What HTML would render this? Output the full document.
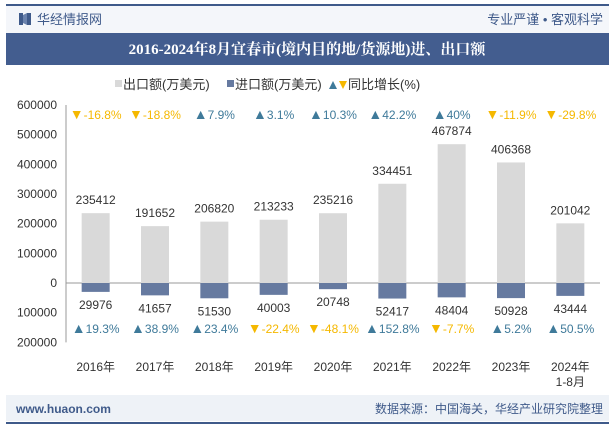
<!DOCTYPE html>
<html><head><meta charset="utf-8"><style>
body{margin:0;width:615px;height:427px;background:#fff;font-family:"Liberation Sans","Noto Sans CJK SC",sans-serif;overflow:hidden}
</style></head><body>
<svg width="615" height="427" xmlns="http://www.w3.org/2000/svg" font-family="Liberation Sans, Noto Sans CJK SC, sans-serif">
<rect x="6" y="4" width="603" height="2" fill="#3f5a8a"/>
<rect x="6" y="6" width="603" height="27" fill="#f4f6fa"/>
<g><rect x="19" y="13" width="4" height="12" fill="#3f5a8a"/><rect x="27" y="13" width="4" height="12" fill="#3f5a8a"/><polygon points="23,15 27,13 27,25 23,23" fill="#6a82ad"/></g>
<text x="37" y="24" font-size="13" fill="#3f5a8a">华经情报网</text>
<text x="603" y="24" font-size="13" fill="#3f5a8a" text-anchor="end">专业严谨 • 客观科学</text>
<rect x="6" y="33" width="603" height="32" fill="#435d8f"/>
<text x="307" y="54" font-size="15" font-weight="bold" fill="#fff" text-anchor="middle" font-family="Liberation Serif, Noto Serif CJK SC, serif">2016-2024年8月宜春市(境内目的地/货源地)进、出口额</text>
<g font-size="13" fill="#333">
<rect x="115" y="80" width="7" height="7" fill="#d9d9d9"/><text x="123" y="89">出口额(万美元)</text>
<rect x="227" y="80" width="7" height="7" fill="#667aa0"/><text x="235" y="89">进口额(万美元)</text>
<polygon points="329,89 333,81 337,89" fill="#3f7a9a"/><polygon points="339,81 347,81 343,89" fill="#f5b800"/><text x="348" y="89">同比增长(%)</text>
</g>
<g id="chart"></g>
<rect x="6" y="395" width="603" height="26" fill="#eef2f7"/>
<text x="16" y="413" font-size="12" fill="#3f5a8a" font-weight="bold">www.huaon.com</text>
<text x="603" y="413" font-size="12" fill="#3f5a8a" text-anchor="end">数据来源：中国海关，华经产业研究院整理</text>
<rect x="6" y="422" width="603" height="2" fill="#3f5a8a"/>
</svg>
<script>
const categories=["2016年","2017年","2018年","2019年","2020年","2021年","2022年","2023年","2024年"];
const exportVals=[235412,191652,206820,213233,235216,334451,467874,406368,201042];
const importVals=[29976,41657,51530,40003,20748,52417,48404,50928,43444];
const exportGrowth=[-16.8,-18.8,7.9,3.1,10.3,42.2,40,-11.9,-29.8];
const importGrowth=[19.3,38.9,23.4,-22.4,-48.1,152.8,-7.7,5.2,50.5];
const yTicks=[600000,500000,400000,300000,200000,100000,0,-100000,-200000];
const NS="http://www.w3.org/2000/svg";
const g=document.getElementById('chart');
const x0=66,x1=600,step=(x1-x0)/categories.length;
const y=v=>283-v*(178/600000);
const xc=i=>x0+step*(i+0.5);
function mk(t,a,txt,parent){const e=document.createElementNS(NS,t);for(const k in a)e.setAttribute(k,a[k]);if(txt!=null)e.textContent=txt;(parent||g).appendChild(e);return e;}
let e=mk('line',{x1:x0,x2:x0,y1:y(600000),y2:y(-200000),stroke:'#999'});


yTicks.forEach(t=>{
 const l=mk('text',{x:57,y:y(t)+4,'font-size':12,fill:'#333','text-anchor':'end'},String(Math.abs(t)));
 
 
});
e=mk('line',{x1:x0,x2:x1,y1:y(0),y2:y(0),stroke:'#999'});


function growth(v,cx,cy){
 const up=v>=0,col=up?'#3f7a9a':'#f5b800';
 const t=mk('text',{x:cx,y:cy,'font-size':12,fill:col,'text-anchor':'middle'},null);
 
 
 mk('tspan',{'font-size':14},up?'▲':'▼',t);
 mk('tspan',{},v+'%',t);
}
categories.forEach((c,i)=>{
 const cx=xc(i),w=28;
 let b=mk('rect',{x:cx-w/2,y:y(exportVals[i]),width:w,height:y(0)-y(exportVals[i]),fill:'#d9d9d9'});
 
 
 b=mk('rect',{x:cx-w/2,y:y(0),width:w,height:y(-importVals[i])-y(0),fill:'#667aa0'});
 
 
 let t=mk('text',{x:cx,y:y(exportVals[i])-9,'font-size':12,fill:'#333','text-anchor':'middle'},String(exportVals[i]));
 
 
 t=mk('text',{x:cx,y:y(-importVals[i])+17,'font-size':12,fill:'#333','text-anchor':'middle'},String(importVals[i]));
 
 
 growth(exportGrowth[i],cx,119);
 growth(importGrowth[i],cx,333);
 t=mk('text',{x:cx,y:371,'font-size':12,fill:'#333','text-anchor':'middle'},c);
 
 
 if(i===categories.length-1){
  t=mk('text',{x:cx,y:386,'font-size':12,fill:'#333','text-anchor':'middle'},'1-8月');
  
  
 }
});
</script>
</body></html>
